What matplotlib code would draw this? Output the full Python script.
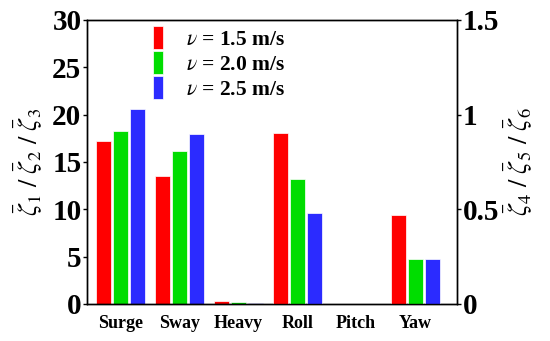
import matplotlib
matplotlib.use("Agg")
import matplotlib.pyplot as plt
import numpy as np

categories = ["Surge", "Sway", "Heavy", "Roll", "Pitch", "Yaw"]
series_labels = [r"$\nu$ = 1.5 m/s", r"$\nu$ = 2.0 m/s", r"$\nu$ = 2.5 m/s"]
colors = ["#ff0000", "#00dd00", "#2b2bff"]
# Translational (left axis) values for Surge, Sway, Heavy
left_v15 = [17.2, 13.5, 0.3]
left_v20 = [18.3, 16.2, 0.2]
left_v25 = [20.6, 18.0, 0.1]
# Rotational (right axis) values for Roll, Pitch, Yaw
right_v15 = [0.905, 0.0, 0.47]
right_v20 = [0.66, 0.0, 0.24]
right_v25 = [0.48, 0.0, 0.24]
left_ticks = [0, 5, 10, 15, 20, 25, 30]
right_ticks = [0, 0.5, 1, 1.5]
right_ticklabels = ["0", "0.5", "1", "1.5"]

plt.rcParams["font.family"] = ["Liberation Serif", "DejaVu Serif"]
plt.rcParams["mathtext.fontset"] = "stix"

fig = plt.figure(figsize=(5.5, 3.41), dpi=100)
ax = fig.add_axes([87/550, 1-304/341, (457-87)/550, (304-20)/341])
ax2 = ax.twinx()

x = np.arange(len(categories))
w = 0.255
off = 0.29
left_series = [left_v15, left_v20, left_v25]
right_series = [right_v15, right_v20, right_v25]
for i in range(3):
    ax.bar(x[:3] + (i-1)*off, left_series[i], width=w, color=colors[i],
           edgecolor="white", linewidth=0.5, label=series_labels[i], zorder=2)
    ax2.bar(x[3:] + (i-1)*off, right_series[i], width=w, color=colors[i],
            edgecolor="white", linewidth=0.5, zorder=2)

ax.set_xlim(-0.565, 5.71)
ax.set_ylim(0, 30)
ax2.set_ylim(0, 1.5)
ax.set_yticks(left_ticks)
ax.set_yticklabels([str(t) for t in left_ticks], fontsize=21, fontweight="bold")
ax2.set_yticks(right_ticks)
ax2.set_yticklabels(right_ticklabels, fontsize=21, fontweight="bold")
ax.set_xticks(x)
ax.set_xticklabels(categories, fontsize=13, fontweight="bold")
ax.tick_params(axis="x", length=0, pad=8)
ax.tick_params(axis="y", direction="out", length=3, width=1, pad=1)
ax2.tick_params(axis="y", direction="out", length=3, width=1, pad=1)

for a in (ax, ax2):
    for s in a.spines.values():
        s.set_linewidth(1.0)

ax.set_ylabel(r"$\bar{\zeta}_1\ /\ \bar{\zeta}_2\ /\ \bar{\zeta}_3$", fontsize=19, labelpad=6)
ax2.set_ylabel(r"$\bar{\zeta}_4\ /\ \bar{\zeta}_5\ /\ \bar{\zeta}_6$", fontsize=19, labelpad=2)

leg = ax.legend(loc="upper left", bbox_to_anchor=(0.155, 1.01), frameon=False,
                prop={"weight": "bold", "size": 15.5}, handlelength=0.45,
                handleheight=1.3, handletextpad=1.1, labelspacing=0.05,
                borderaxespad=0.0)

fig.savefig("out.png", dpi=100)
